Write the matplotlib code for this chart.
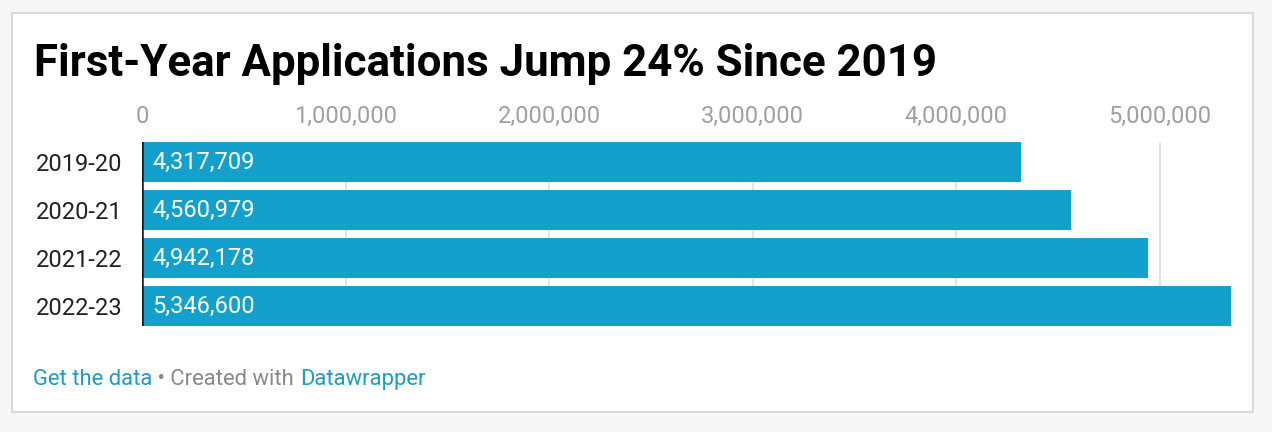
import matplotlib
matplotlib.use("Agg")
import matplotlib.pyplot as plt
from matplotlib.patches import Rectangle

plt.rcParams['font.family'] = ['Roboto', 'DejaVu Sans']

years = ["2019-20", "2020-21", "2021-22", "2022-23"]
applications = [4317709, 4560979, 4942178, 5346600]
ticks = [0, 1000000, 2000000, 3000000, 4000000, 5000000]

W, H = 1272, 432
bar_color = "#14a0cc"
blue_link = "#1d9bc9"

fig = plt.figure(figsize=(W / 100, H / 100), dpi=100)
fig.patch.set_facecolor("#f7f7f7")

# white card with grey border
fig.add_artist(Rectangle((12 / W, (H - 412) / H), (1253 - 12) / W, (412 - 13) / H,
                         transform=fig.transFigure, facecolor="white",
                         edgecolor="#dadada", linewidth=1.5, zorder=0))

# axes geometry in pixels
x0, x1 = 142, 1236
y_top, y_bot = 142, 326
px_per_unit = 203.6 / 1e6
ax = fig.add_axes([x0 / W, (H - y_bot) / H, (x1 - x0) / W, (y_bot - y_top) / H])
ax.set_facecolor("none")

bar_h = 40 / 48
pos = range(len(years))
ax.barh(pos, applications, height=bar_h, color=bar_color, zorder=2)
ax.set_ylim(len(years) - 1 + bar_h / 2, -bar_h / 2)
ax.set_xlim(0, (x1 - x0) / px_per_unit)

# gridlines and zero line
for t in ticks[1:]:
    ax.axvline(t, color="#e3e3e3", linewidth=1.5, zorder=1)
ax.axvline(0, color="#1a1a1a", linewidth=1.8, zorder=3)

for s in ax.spines.values():
    s.set_visible(False)

ax.xaxis.tick_top()
ax.set_xticks(ticks)
ax.set_xticklabels([f"{t:,}" for t in ticks])
ax.tick_params(axis="x", length=0, pad=10, labelsize=17, labelcolor="#a0a0a0")

ax.set_yticks(list(pos))
ax.set_yticklabels(years)
ax.tick_params(axis="y", length=0, pad=14, labelsize=17, labelcolor="#222222")

for i, v in enumerate(applications):
    ax.annotate(f"{v:,}", xy=(0, i), xytext=(7.5, 0), textcoords="offset points",
                va="center", ha="left", color="white", fontsize=17, zorder=4)

# title
fig.text(34 / W, (H - 76) / H, "First-Year Applications Jump 24% Since 2019",
         fontsize=31.6, fontweight="bold", color="#000000", va="baseline", ha="left")

# footer
fy = (H - 385) / H
t1 = fig.text(33 / W, fy, "Get the data", fontsize=15.8,
              color=blue_link, va="baseline", ha="left")
t2 = fig.text(0, 0, " \u2022 Created with ", fontsize=15.8, color="#888888",
              va="baseline", ha="left")
t3 = fig.text(0, 0, "Datawrapper", fontsize=15.8, color=blue_link,
              va="baseline", ha="left")
fig.canvas.draw()
r = fig.canvas.get_renderer()
bb1 = t1.get_window_extent(r)
t2.set_position((bb1.x1 / W, fy))
fig.canvas.draw()
bb2 = t2.get_window_extent(r)
t3.set_position((bb2.x1 / W, fy))

fig.savefig("out.png", dpi=100, facecolor=fig.get_facecolor())
